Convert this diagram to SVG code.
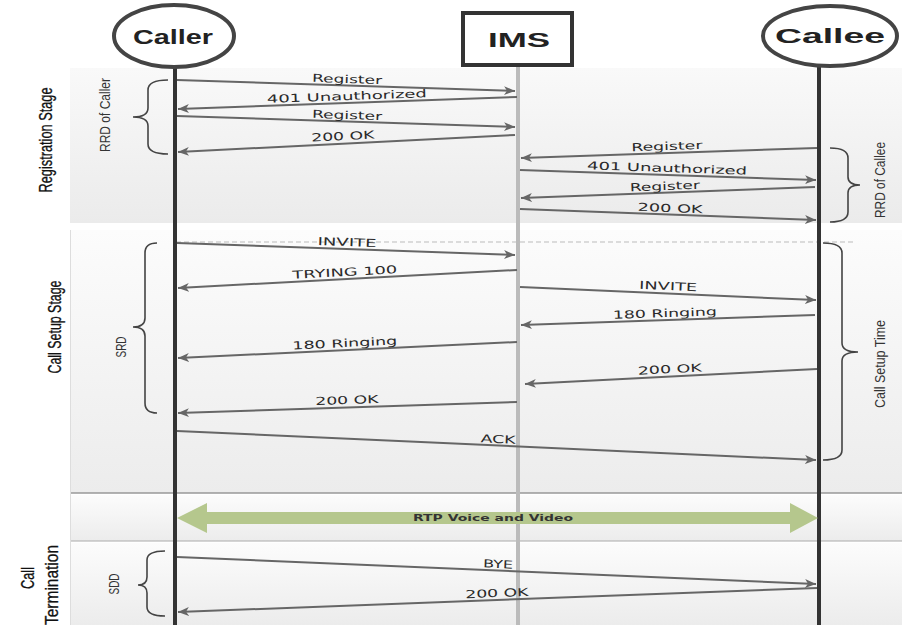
<svg xmlns="http://www.w3.org/2000/svg" width="902" height="625" viewBox="0 0 902 625">
<defs>
<linearGradient id="gBand" x1="0" y1="0" x2="0" y2="1">
<stop offset="0" stop-color="#f9f9f9"/>
<stop offset="1" stop-color="#ebebeb"/>
</linearGradient>
<linearGradient id="gBand2" x1="0" y1="0" x2="0" y2="1">
<stop offset="0" stop-color="#fcfcfc"/>
<stop offset="1" stop-color="#ececec"/>
</linearGradient>
<marker id="ah" markerUnits="userSpaceOnUse" markerWidth="13" markerHeight="10" refX="11" refY="4.5" orient="auto">
<path d="M0,0 L11,4.5 L0,9 L3,4.5 z" fill="#666"/>
</marker>
<style>
.msg{stroke:#666;stroke-width:2;fill:none;marker-end:url(#ah)}
.lbl{font-family:"DejaVu Sans",Verdana,sans-serif;font-size:11px;fill:#2a2a2a;text-anchor:middle}
.stage{font-family:"Liberation Sans",Arial,sans-serif;font-size:19px;fill:#111;stroke:#111;stroke-width:0.3;text-anchor:middle}
.side{font-family:"Liberation Sans",Arial,sans-serif;font-size:15px;fill:#333;text-anchor:middle}
.brace{stroke:#444;stroke-width:1.6;fill:none}
.actor{font-family:"Liberation Sans",Arial,sans-serif;font-size:20px;font-weight:bold;fill:#222;text-anchor:middle}
</style>
</defs>
<rect width="902" height="625" fill="#ffffff"/>
<g id="bands">
<rect x="70" y="68" width="832" height="155" fill="url(#gBand)"/>
<rect x="70" y="230" width="832" height="263" fill="url(#gBand2)"/>
<line x1="70" y1="493" x2="902" y2="493" stroke="#999" stroke-width="1.5"/>
<rect x="70" y="495" width="832" height="46" fill="url(#gBand2)"/>
<line x1="70" y1="541" x2="902" y2="541" stroke="#aaa" stroke-width="1"/>
<rect x="70" y="543" width="832" height="82" fill="url(#gBand2)"/>
<line x1="70.5" y1="230" x2="70.5" y2="625" stroke="#ddd" stroke-width="1"/>
<line x1="176" y1="242" x2="855" y2="242" stroke="#bbb" stroke-width="1" stroke-dasharray="5,3"/>
</g>
<g id="stage-labels">
<text class="stage" transform="translate(52,140) rotate(-90)" textLength="105" lengthAdjust="spacingAndGlyphs">Registration Stage</text>
<text class="stage" transform="translate(61,327) rotate(-90)" textLength="93" lengthAdjust="spacingAndGlyphs">Call Setup Stage</text>
<text class="stage" transform="translate(34,578) rotate(-90)" textLength="22" lengthAdjust="spacingAndGlyphs">Call</text>
<text class="stage" transform="translate(58,585) rotate(-90)" textLength="80" lengthAdjust="spacingAndGlyphs">Termination</text>
</g>
<g id="lifelines">
<line x1="175" y1="66" x2="175" y2="625" stroke="#333" stroke-width="4"/>
<line x1="518" y1="65" x2="518" y2="625" stroke="#bbb" stroke-width="4"/>
<line x1="819" y1="65" x2="819" y2="625" stroke="#333" stroke-width="4"/>
</g>
<g id="caller">
<ellipse cx="174" cy="36" rx="60" ry="31" fill="#fff" stroke="#444" stroke-width="4"/>
<text class="actor" x="173" y="44" textLength="80" lengthAdjust="spacingAndGlyphs">Caller</text>
</g>
<g id="ims">
<rect x="463" y="13" width="109" height="52" fill="#fff" stroke="#333" stroke-width="4"/>
<text class="actor" x="519" y="47" font-size="21" textLength="62" lengthAdjust="spacingAndGlyphs">IMS</text>
</g>
<g id="callee">
<ellipse cx="830" cy="36" rx="67" ry="30" fill="#fff" stroke="#444" stroke-width="4"/>
<text class="actor" x="830" y="43" textLength="110" lengthAdjust="spacingAndGlyphs">Callee</text>
</g>
<g id="braces">
<path class="brace" d="M168,80 Q148,80 148,90 L148,108 Q148,117 133,117 Q148,117 148,126 L148,144 Q148,154 168,154"/>
<text class="side" transform="translate(110,115) rotate(-90)" textLength="74" lengthAdjust="spacingAndGlyphs">RRD of Caller</text>
<path class="brace" d="M157,243 Q145,243 145,253 L145,318 Q145,327 133,327 Q145,327 145,336 L145,403 Q145,413 157,413"/>
<text class="side" transform="translate(126,347) rotate(-90)" textLength="21" lengthAdjust="spacingAndGlyphs">SRD</text>
<path class="brace" d="M165,551 Q147,551 147,560 L147,577 Q147,585 138,585 Q147,585 147,593 L147,607 Q147,616 165,616"/>
<text class="side" transform="translate(119,584) rotate(-90)" textLength="21" lengthAdjust="spacingAndGlyphs">SDD</text>
<path class="brace" d="M830,148 Q848,148 848,158 L848,177 Q848,185 860,185 Q848,185 848,193 L848,212 Q848,222 830,222"/>
<text class="side" transform="translate(885,180) rotate(-90)" textLength="76" lengthAdjust="spacingAndGlyphs">RRD of Callee</text>
<path class="brace" d="M823,243 Q842,243 842,253 L842,343 Q842,352 858,352 Q842,352 842,361 L842,450 Q842,460 823,460"/>
<text class="side" transform="translate(885,364) rotate(-90)" textLength="88" lengthAdjust="spacingAndGlyphs">Call Setup Time</text>
</g>
<g id="connectors">
<line class="msg" x1="177" y1="80" x2="515" y2="91"/>
<line class="msg" x1="517" y1="97" x2="178" y2="109"/>
<line class="msg" x1="177" y1="116" x2="515" y2="127"/>
<line class="msg" x1="515" y1="135" x2="178" y2="152"/>
<line class="msg" x1="817" y1="148" x2="521" y2="158"/>
<line class="msg" x1="520" y1="170" x2="816" y2="180"/>
<line class="msg" x1="815" y1="187" x2="521" y2="198"/>
<line class="msg" x1="520" y1="209" x2="816" y2="220"/>
<line class="msg" x1="177" y1="243" x2="515" y2="255"/>
<line class="msg" x1="517" y1="270" x2="178" y2="288"/>
<line class="msg" x1="520" y1="287" x2="816" y2="300"/>
<line class="msg" x1="815" y1="315" x2="521" y2="325"/>
<line class="msg" x1="517" y1="342" x2="178" y2="358"/>
<line class="msg" x1="817" y1="369" x2="525" y2="384"/>
<line class="msg" x1="517" y1="402" x2="178" y2="413"/>
<line class="msg" x1="177" y1="431" x2="816" y2="460"/>
<line class="msg" x1="177" y1="557" x2="816" y2="584"/>
<line class="msg" x1="817" y1="588" x2="178" y2="612"/>
<polygon points="177,518 207,503 207,512 790,512 790,503 818,518 790,533 790,524 207,524 207,533" fill="#b5c78d"/>
</g>
<g id="labels">
<text class="lbl" x="347" y="83" transform="rotate(1.86 347 83)" textLength="70" lengthAdjust="spacingAndGlyphs">Register</text>
<text class="lbl" x="347" y="100" transform="rotate(-2 347 100)" textLength="160" lengthAdjust="spacingAndGlyphs">401 Unauthorized</text>
<text class="lbl" x="347" y="119" transform="rotate(1.86 347 119)" textLength="70" lengthAdjust="spacingAndGlyphs">Register</text>
<text class="lbl" x="343" y="140" transform="rotate(-2.86 343 140)" textLength="63" lengthAdjust="spacingAndGlyphs">200 OK</text>
<text class="lbl" x="667" y="150" transform="rotate(-1.93 667 150)" textLength="71" lengthAdjust="spacingAndGlyphs">Register</text>
<text class="lbl" x="667" y="172" transform="rotate(1.93 667 172)" textLength="160" lengthAdjust="spacingAndGlyphs">401 Unauthorized</text>
<text class="lbl" x="665" y="190" transform="rotate(-2.1 665 190)" textLength="70" lengthAdjust="spacingAndGlyphs">Register</text>
<text class="lbl" x="670" y="212" transform="rotate(2.1 670 212)" textLength="65" lengthAdjust="spacingAndGlyphs">200 OK</text>
<text class="lbl" x="347" y="246" transform="rotate(2.03 347 246)" textLength="59" lengthAdjust="spacingAndGlyphs">INVITE</text>
<text class="lbl" x="345" y="276" transform="rotate(-3.03 345 276)" textLength="105" lengthAdjust="spacingAndGlyphs">TRYING 100</text>
<text class="lbl" x="668" y="290" transform="rotate(2.5 668 290)" textLength="58" lengthAdjust="spacingAndGlyphs">INVITE</text>
<text class="lbl" x="665" y="317" transform="rotate(-1.94 665 317)" textLength="104" lengthAdjust="spacingAndGlyphs">180 Ringing</text>
<text class="lbl" x="345" y="347" transform="rotate(-2.7 345 347)" textLength="105" lengthAdjust="spacingAndGlyphs">180 Ringing</text>
<text class="lbl" x="670" y="373" transform="rotate(-2.94 670 373)" textLength="64" lengthAdjust="spacingAndGlyphs">200 OK</text>
<text class="lbl" x="347" y="404" transform="rotate(-1.85 347 404)" textLength="63" lengthAdjust="spacingAndGlyphs">200 OK</text>
<text class="lbl" x="498" y="443" transform="rotate(2.6 498 443)" textLength="35" lengthAdjust="spacingAndGlyphs">ACK</text>
<text x="493" y="521" font-family="'DejaVu Sans',Verdana,sans-serif" font-size="9" font-weight="bold" fill="#333" text-anchor="middle" textLength="160" lengthAdjust="spacingAndGlyphs">RTP Voice and Video</text>
<text class="lbl" x="498" y="568" transform="rotate(2.42 498 568)" textLength="30" lengthAdjust="spacingAndGlyphs">BYE</text>
<text class="lbl" x="497" y="597" transform="rotate(-2.15 497 597)" textLength="63" lengthAdjust="spacingAndGlyphs">200 OK</text>
</g>
</svg>
